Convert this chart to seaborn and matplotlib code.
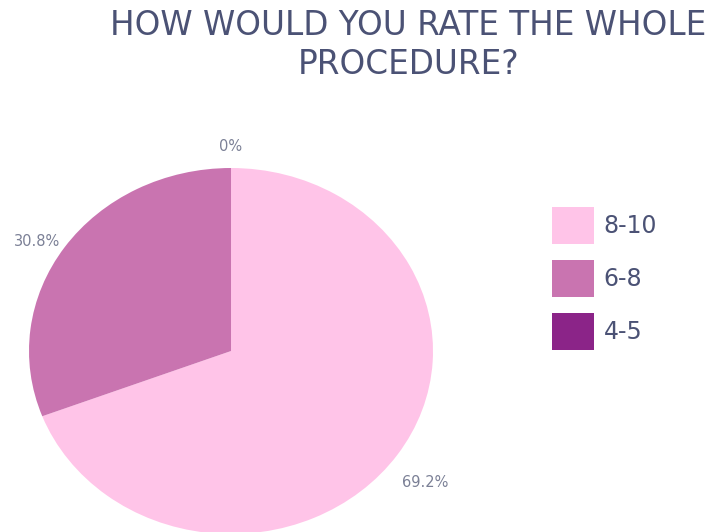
import matplotlib
matplotlib.use("Agg")
import matplotlib.pyplot as plt
import seaborn as sns

sns.set_style("white")
plt.rcParams['font.family'] = ['DejaVu Sans']

# Dados
categorias = ['8-10', '6-8', '4-5']
percentuais = [69.2, 30.8, 0.0]
cores = ['#FFC4E8', '#C974B0', '#8B2488']

titulo_cor = '#4B5275'
rotulo_cor = '#7B8096'

fig = plt.figure(figsize=(7.27, 5.32), dpi=100)

# Eixo da pizza (levemente esticado na horizontal como no original)
ax = fig.add_axes([0.0399, -0.0038, 0.5557, 0.688])


def fmt_pct(p):
    return f"{p:.1f}%" if p > 0.05 else "0%"


wedges, textos, autotextos = ax.pie(
    percentuais, colors=cores, startangle=90, counterclock=False,
    autopct=fmt_pct, pctdistance=1.16,
    wedgeprops={'linewidth': 0},
    textprops={'color': rotulo_cor, 'fontsize': 10.5},
)
ax.set_aspect('auto')
ax.set_xlim(-1, 1)
ax.set_ylim(-1, 1)

# Ajuste fino dos rótulos
autotextos[0].set_position((0.96, -0.72))
autotextos[1].set_position((-0.96, 0.60))
autotextos[2].set_position((0.0, 1.115))

fig.text(0.562, 0.953, 'HOW WOULD YOU RATE THE WHOLE', ha='center', va='center',
         fontsize=23.5, color=titulo_cor)
fig.text(0.562, 0.878, 'PROCEDURE?', ha='center', va='center',
         fontsize=23.5, color=titulo_cor)

fig.legend(wedges, categorias, loc='upper left',
           bbox_to_anchor=(552 / 727, (532 - 207) / 532),
           frameon=False, fontsize=17, borderpad=0, borderaxespad=0,
           handlelength=1.76, handleheight=2.03, labelspacing=0.68,
           handletextpad=0.42, labelcolor=titulo_cor)

fig.savefig('out.png', dpi=100)
